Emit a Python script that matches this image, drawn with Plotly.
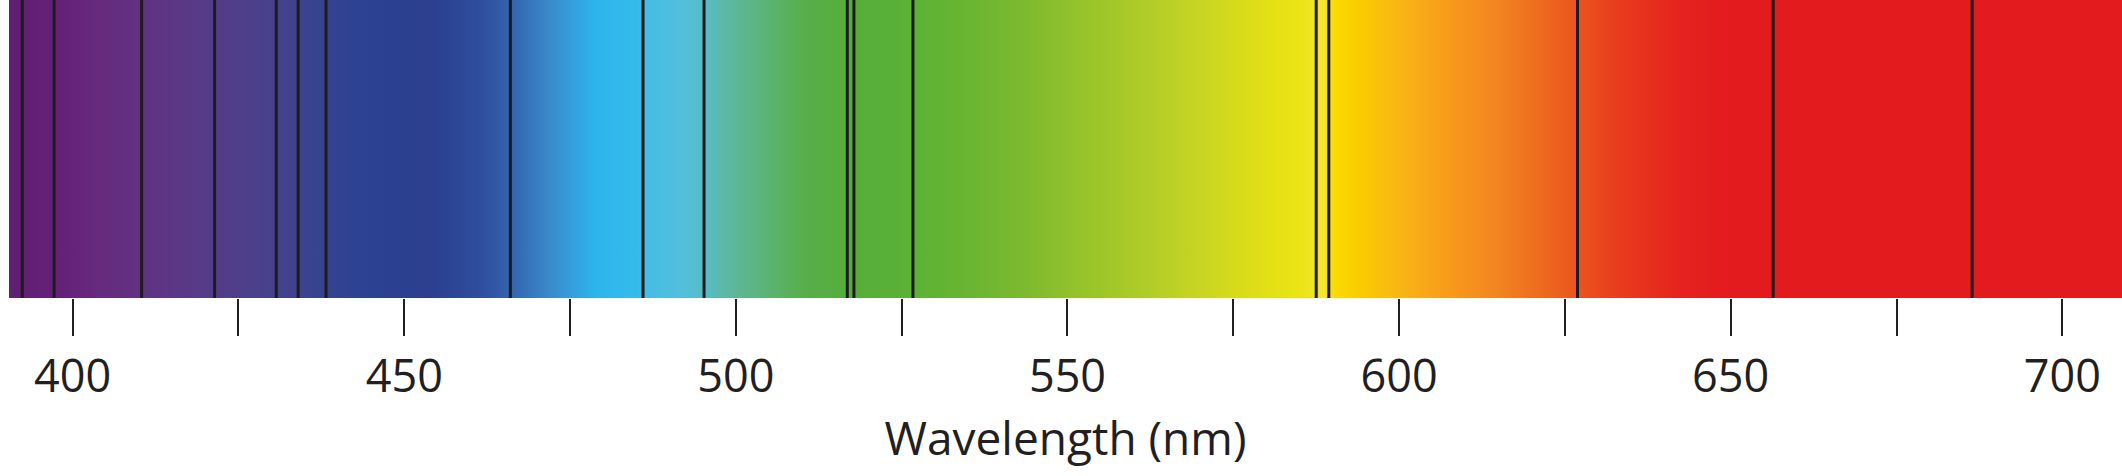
import plotly.graph_objects as go

# Visible wavelength window (nm)
x_min, x_max = 390.4, 709.0

# Colour stops of the continuous spectrum (wavelength nm -> colour)
stop_wavelengths = [390.4, 392.4, 397.2, 404.0, 410.2, 421.3, 430.5, 437.0, 443.4,
                    454.0, 462.0, 466.5, 472.0, 479.0, 485.0, 486.5, 491.5, 495.5,
                    499.0, 504.0, 510.0, 517.0, 527.5, 535.5, 544.5, 552.0, 562.5,
                    570.0, 577.5, 585.0, 588.5, 590.5, 594.0, 600.0, 606.0, 615.0,
                    624.0, 633.0, 642.0, 649.0, 709.0]
stop_colors = ["#5e2170", "#621f74", "#651f78", "#672a7c", "#613283", "#543c88",
               "#46418c", "#37438f", "#2c4292", "#2b3f8e", "#2f4f9f", "#3466af",
               "#3a8bcb", "#2db5ed", "#35baeb", "#45bde5", "#52bfdc", "#58bcc4",
               "#5cb8a0", "#5cb47a", "#58af4c", "#55ad3a", "#5db235", "#6bb531",
               "#80ba2f", "#96c32b", "#b2cd27", "#c8d523", "#dcdd18", "#ece414",
               "#f4e630", "#fbda00", "#f9cc00", "#f9b614", "#f8a01a", "#f28420",
               "#ec601e", "#e93c1d", "#e5241e", "#e31b1e", "#e31b1e"]

# Dark absorption (Fraunhofer) lines, nm
absorption_lines = [392.4, 397.2, 410.4, 421.4, 430.7, 434.0, 438.2, 466.0, 486.0,
                    495.2, 516.8, 517.8, 526.7, 587.5, 589.4, 626.9, 656.4, 686.4]

# Axis ticks
tick_values = [400, 425, 450, 475, 500, 525, 550, 575, 600, 625, 650, 675, 700]
tick_labels = ["400", "", "450", "", "500", "", "550", "", "600", "", "650", "", "700"]

span = x_max - x_min
colorscale = [[(w - x_min) / span, c] for w, c in zip(stop_wavelengths, stop_colors)]

fig = go.Figure()

fig.add_trace(go.Scatter(
    x=[x_min, x_max, x_max, x_min, x_min],
    y=[0, 0, 1, 1, 0],
    mode="lines",
    line=dict(width=0),
    fill="toself",
    fillgradient=dict(type="horizontal", colorscale=colorscale, start=x_min, stop=x_max),
    hoverinfo="skip",
    showlegend=False,
))

line_x, line_y = [], []
for w in absorption_lines:
    line_x += [w, w, None]
    line_y += [0, 1, None]

fig.add_trace(go.Scatter(
    x=line_x, y=line_y, mode="lines",
    line=dict(color="#1d1b1c", width=3),
    hoverinfo="skip", showlegend=False,
))

font_family = "Open Sans"
text_color = "#231f20"

fig.update_layout(
    width=2122, height=476,
    margin=dict(l=9, r=0, t=0, b=178, pad=0),
    paper_bgcolor="white", plot_bgcolor="white",
    xaxis=dict(
        range=[x_min, x_max],
        tickmode="array", tickvals=tick_values, ticktext=tick_labels,
        ticks="outside", ticklen=37, tickwidth=1.8, tickcolor=text_color,
        showgrid=False, zeroline=False, showline=False,
        tickfont=dict(family=font_family, size=45, color=text_color),
        ticklabelstandoff=2,
        title=dict(text="Wavelength (nm)", standoff=18,
                   font=dict(family=font_family, size=46, color=text_color)),
        fixedrange=True,
    ),
    yaxis=dict(range=[0, 1], visible=False, fixedrange=True),
)

fig.write_html(
    "out.html",
    config={"displayModeBar": False},
    post_script="document.body.style.margin='0';document.body.style.overflow='hidden';",
)
